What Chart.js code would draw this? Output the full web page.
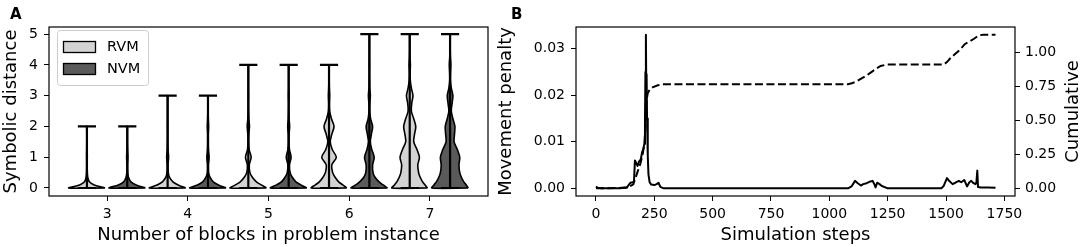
<!DOCTYPE html>
<html>
<head>
<meta charset="utf-8">
<script src="https://cdn.jsdelivr.net/npm/chart.js@4.4.0/dist/chart.umd.min.js"></script>
<style>
html, body { margin: 0; padding: 0; background: #fff; }
#wrap { position: relative; width: 1084px; height: 247px; overflow: hidden; }
#chartA { position: absolute; left: 0; top: 0; width: 500px; height: 247px; }
#chartB { position: absolute; left: 495px; top: 0; width: 589px; height: 247px; }
</style>
</head>
<body>
<div id="wrap">
  <canvas id="chartA" width="500" height="247"></canvas>
  <canvas id="chartB" width="589" height="247"></canvas>
</div>
<script>
// ---- panel A data: violin profiles (half widths in x units at each level) ----
const blockCounts = [3, 4, 5, 6, 7];
const groupNames = ['RVM', 'NVM'];
const groupOffsets = [-0.25, 0.25];
const groupColors = ['#d3d3d3', '#5a5a5a'];
const rvmMax = [2, 3, 4, 4, 5];
const nvmMax = [2, 3, 4, 5, 5];
const levels = [0, 0.1, 0.2, 0.35, 0.5, 0.75, 1, 1.25, 1.5, 1.75, 2, 2.25, 2.5, 2.75,
                3, 3.25, 3.5, 3.75, 4, 4.25, 4.5, 4.75, 5];
const rvmWidths = [
    [0.225, 0.09, 0.03, 0.01, 0.005, 0.003, 0.004, 0.003, 0.002, 0.002, 0.002],
    [0.225, 0.13, 0.065, 0.022, 0.008, 0.005, 0.012, 0.005, 0.003, 0.002, 0.003, 0.002, 0.002, 0.002, 0.002],
    [0.225, 0.16, 0.1, 0.05, 0.02, 0.012, 0.035, 0.01, 0.004, 0.006, 0.014, 0.006, 0.003, 0.002, 0.003, 0.002, 0.002, 0.002, 0.002],
    [0.22, 0.17, 0.12, 0.075, 0.045, 0.035, 0.09, 0.04, 0.015, 0.035, 0.062, 0.03, 0.008, 0.005, 0.008, 0.004, 0.002, 0.002, 0.002],
    [0.22, 0.19, 0.16, 0.13, 0.11, 0.1, 0.12, 0.09, 0.05, 0.06, 0.075, 0.05, 0.02, 0.025, 0.04, 0.02, 0.007, 0.005, 0.008, 0.004, 0.002, 0.002, 0.002]
];
const nvmWidths = [
    [0.225, 0.11, 0.045, 0.015, 0.006, 0.004, 0.008, 0.004, 0.002, 0.002, 0.002],
    [0.225, 0.13, 0.065, 0.025, 0.008, 0.006, 0.014, 0.006, 0.004, 0.004, 0.008, 0.004, 0.002, 0.002, 0.002],
    [0.225, 0.15, 0.09, 0.045, 0.018, 0.01, 0.03, 0.01, 0.004, 0.005, 0.012, 0.005, 0.003, 0.002, 0.004, 0.002, 0.002, 0.002, 0.002],
    [0.225, 0.17, 0.12, 0.07, 0.045, 0.04, 0.06, 0.03, 0.012, 0.025, 0.04, 0.015, 0.005, 0.006, 0.012, 0.005, 0.003, 0.002, 0.003, 0.002, 0.002, 0.002, 0.002],
    [0.225, 0.2, 0.17, 0.14, 0.12, 0.11, 0.12, 0.09, 0.05, 0.055, 0.06, 0.035, 0.015, 0.025, 0.035, 0.015, 0.005, 0.006, 0.01, 0.004, 0.002, 0.002, 0.002]
];
const capHalf = 0.1125;

// ---- panel B data ----
const penaltySteps = [0, 8, 20, 60, 100, 132, 140, 148, 158, 163, 167, 172, 178, 185, 192, 198, 203, 207, 210, 212,
    214, 215.5, 217, 219, 222, 225, 230, 237, 250, 260, 268, 276, 290, 1080, 1095, 1110, 1122, 1135, 1145, 1160,
    1172, 1185, 1193, 1198, 1205, 1215, 1225, 1240, 1250, 1480, 1490, 1504, 1515, 1528, 1540, 1555, 1565, 1578,
    1590, 1600, 1608, 1618, 1626, 1630, 1634, 1637, 1650, 1680, 1712];
const penaltyValues = [0.0004, 0.0001, 0, 0, 0, 0.0001, 0.0007, 0.0012, 0.0013, 0.0015, 0.006, 0.0055, 0.0048, 0.0058,
    0.0062, 0.0078, 0.0085, 0.0095, 0.014, 0.025, 0.033, 0.022, 0.0245, 0.015, 0.007, 0.003, 0.0013, 0.0008, 0.0007,
    0.0009, 0.0012, 0.0003, 0, 0, 0.0004, 0.0016, 0.0011, 0.0006, 0.0009, 0.0011, 0.0014, 0.0016, 0.0009, 0.0002,
    0.0012, 0.0009, 0.0005, 0.0002, 0, 0, 0.0005, 0.0022, 0.0015, 0.0009, 0.0012, 0.0016, 0.0013, 0.0018, 0.0004,
    0.0013, 0.0016, 0.0011, 0.0009, 0.0012, 0.0038, 0.0003, 0.0002, 0.0002, 0.0001];
const cumulativeSteps = [0, 100, 140, 160, 170, 180, 190, 200, 207, 212, 215, 218, 222, 230, 245, 265, 290, 1080, 1100,
    1120, 1140, 1160, 1180, 1200, 1220, 1245, 1490, 1505, 1520, 1540, 1560, 1580, 1600, 1620, 1640, 1660, 1712];
const cumulativeValues = [0, 0.002, 0.01, 0.03, 0.08, 0.13, 0.18, 0.25, 0.32, 0.45, 0.6, 0.66, 0.7, 0.725, 0.745, 0.758,
    0.765, 0.765, 0.775, 0.79, 0.81, 0.83, 0.855, 0.88, 0.9, 0.91, 0.91, 0.93, 0.96, 0.99, 1.02, 1.06, 1.08, 1.1, 1.125,
    1.13, 1.13];
const stepTicks = [0, 250, 500, 750, 1000, 1250, 1500, 1750];
const penaltyTicks = [0, 0.01, 0.02, 0.03];
const cumulativeTicks = [0, 0.25, 0.5, 0.75, 1.0];

Chart.defaults.font.family = "'DejaVu Sans', sans-serif";
Chart.defaults.color = '#000';
Chart.defaults.animation = false;

// common bits for an axis that looks like matplotlib
function mplAxis(tickValues, fmt, pad) {
    return {
        type: 'linear',
        border: { display: false },
        grid: { display: true, drawOnChartArea: false, drawTicks: true, tickLength: 5, color: '#000', lineWidth: 1 },
        ticks: { font: { size: 14 }, padding: pad, callback: fmt, maxRotation: 0, autoSkip: false },
        afterBuildTicks: s => { s.ticks = tickValues.map(v => ({ value: v })); }
    };
}

const framePlugin = {
    id: 'frame',
    afterDatasetsDraw(chart) {
        const a = chart.chartArea, ctx = chart.ctx;
        ctx.save();
        ctx.strokeStyle = '#000';
        ctx.lineWidth = 1.2;
        ctx.strokeRect(a.left, a.top, a.right - a.left, a.bottom - a.top);
        ctx.restore();
    }
};

function panelLetter(letter, x) {
    return {
        id: 'letter' + letter,
        afterDraw(chart) {
            const ctx = chart.ctx;
            ctx.save();
            ctx.font = "bold 15px 'DejaVu Sans'";
            ctx.fillStyle = '#000';
            ctx.textBaseline = 'alphabetic';
            ctx.fillText(letter, x, 19);
            ctx.restore();
        }
    };
}

// ---- panel A ----
const violinSets = [];
const barPoints = [];
blockCounts.forEach((n, i) => {
    [[rvmWidths[i], rvmMax[i]], [nvmWidths[i], nvmMax[i]]].forEach(([w, mx], g) => {
        const cx = n + groupOffsets[g];
        const lv = levels.filter(l => l <= mx);
        const right = lv.map((l, k) => ({ x: cx + w[k], y: l }));
        const left = lv.map((l, k) => ({ x: cx - w[k], y: l })).reverse();
        violinSets.push({
            data: right.concat(left, [right[0]]),
            showLine: true,
            fill: 'shape',
            backgroundColor: groupColors[g],
            borderColor: '#000',
            borderWidth: 1.6,
            borderJoinStyle: 'round',
            tension: 0.3,
            pointRadius: 0,
            order: 1
        });
        barPoints.push({ x: cx, y: 0 }, { x: cx, y: mx }, { x: cx, y: null });
        barPoints.push({ x: cx - capHalf, y: mx }, { x: cx + capHalf, y: mx }, { x: cx, y: null });
        barPoints.push({ x: cx - capHalf, y: 0 }, { x: cx + capHalf, y: 0 }, { x: cx, y: null });
    });
});

const legendPlugin = {
    id: 'violinLegend',
    afterDraw(chart) {
        const ctx = chart.ctx;
        ctx.save();
        ctx.beginPath();
        ctx.roundRect(57.5, 30.5, 91, 55, 3);
        ctx.fillStyle = 'rgba(255,255,255,0.8)';
        ctx.fill();
        ctx.strokeStyle = '#cccccc';
        ctx.lineWidth = 1;
        ctx.stroke();
        const rows = [47, 69];
        groupNames.forEach((name, g) => {
            ctx.fillStyle = groupColors[g];
            ctx.fillRect(63.5, rows[g] - 5.5, 32, 11);
            ctx.strokeStyle = '#000';
            ctx.lineWidth = 1.3;
            ctx.strokeRect(63.5, rows[g] - 5.5, 32, 11);
            ctx.fillStyle = '#000';
            ctx.font = "14.5px 'DejaVu Sans'";
            ctx.textBaseline = 'middle';
            ctx.fillText(name, 107, rows[g] + 0.5);
        });
        ctx.restore();
    }
};

const xA = mplAxis(blockCounts, v => v, 5);
xA.min = 2.28; xA.max = 7.72;
xA.title = { display: true, text: 'Number of blocks in problem instance', font: { size: 18 }, padding: { top: 1, bottom: 1 } };
xA.afterFit = s => { s.height = 51; };
const yA = mplAxis([0, 1, 2, 3, 4, 5], v => v, 6);
yA.min = -0.26; yA.max = 5.23;
yA.title = { display: true, text: 'Symbolic distance', font: { size: 18 }, padding: { top: 1, bottom: 1 } };
yA.afterFit = s => { s.width = 49; };

new Chart(document.getElementById('chartA'), {
    type: 'scatter',
    data: {
        datasets: [{
            data: barPoints,
            showLine: true,
            borderColor: '#000',
            borderWidth: 2.2,
            pointRadius: 0,
            spanGaps: false,
            tension: 0,
            order: 0
        }].concat(violinSets)
    },
    options: {
        responsive: false,
        devicePixelRatio: 1,
        layout: { padding: { left: 0, right: 12, top: 27, bottom: 0 } },
        plugins: { legend: { display: false }, tooltip: { enabled: false } },
        scales: { x: xA, y: yA }
    },
    plugins: [framePlugin, legendPlugin, panelLetter('A', 10)]
});

// ---- panel B ----
const xB = mplAxis(stepTicks, v => v, 5);
xB.min = -85.5; xB.max = 1795.5;
xB.title = { display: true, text: 'Simulation steps', font: { size: 18 }, padding: { top: 1, bottom: 1 } };
xB.afterFit = s => { s.height = 51; };
const yB = mplAxis(penaltyTicks, v => v.toFixed(2), 6);
yB.min = -0.00165; yB.max = 0.03465;
yB.title = { display: true, text: 'Movement penalty', font: { size: 18 }, padding: { top: 1, bottom: 1 } };
yB.afterFit = s => { s.width = 81; };
const y1B = mplAxis(cumulativeTicks, v => v.toFixed(2), 5);
y1B.position = 'right';
y1B.min = -0.0565; y1B.max = 1.1865;
y1B.afterFit = s => { s.width = 69; };

const rightTitlePlugin = {
    id: 'rightTitle',
    afterDraw(chart) {
        const ctx = chart.ctx, a = chart.chartArea;
        ctx.save();
        ctx.translate(1073.5 - 495, (a.top + a.bottom) / 2);
        ctx.rotate(-Math.PI / 2);
        ctx.font = "18px 'DejaVu Sans'";
        ctx.fillStyle = '#000';
        ctx.textAlign = 'center';
        ctx.textBaseline = 'middle';
        ctx.fillText('Cumulative', 0, 0);
        ctx.restore();
    }
};

new Chart(document.getElementById('chartB'), {
    type: 'line',
    data: {
        datasets: [{
            data: cumulativeSteps.map((s, i) => ({ x: s, y: cumulativeValues[i] })),
            yAxisID: 'y1',
            borderColor: '#000',
            borderWidth: 2,
            borderDash: [8, 3.5],
            pointRadius: 0,
            tension: 0,
            order: 0
        }, {
            data: penaltySteps.map((s, i) => ({ x: s, y: penaltyValues[i] })),
            yAxisID: 'y',
            borderColor: '#000',
            borderWidth: 2,
            borderJoinStyle: 'round',
            pointRadius: 0,
            tension: 0,
            order: 1
        }]
    },
    options: {
        responsive: false,
        devicePixelRatio: 1,
        layout: { padding: { left: 0, right: 0, top: 27, bottom: 0 } },
        plugins: { legend: { display: false }, tooltip: { enabled: false } },
        scales: { x: xB, y: yB, y1: y1B }
    },
    plugins: [framePlugin, rightTitlePlugin, panelLetter('B', 16)]
});
</script>
</body>
</html>
